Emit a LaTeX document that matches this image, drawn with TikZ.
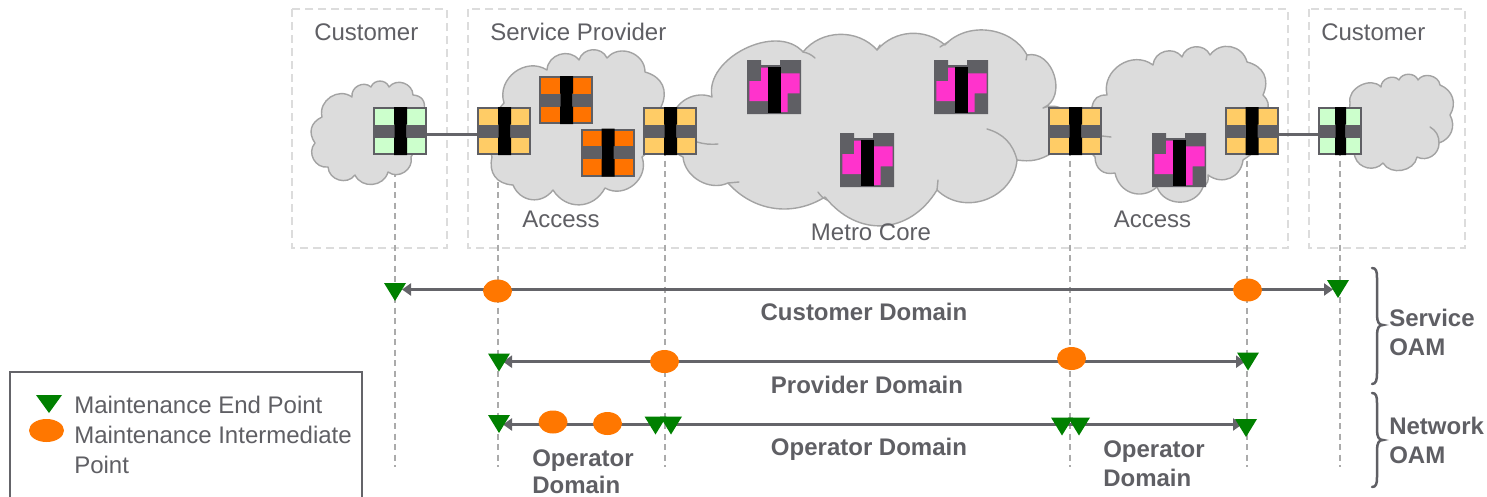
\documentclass[tikz,border=0pt]{standalone}
\usepackage{fontspec}
\setmainfont{Liberation Sans}
\usetikzlibrary{arrows.meta,shapes.geometric}
\definecolor{txtgrey}{HTML}{5F5F64}
\definecolor{linegrey}{HTML}{646469}
\definecolor{boxgrey}{HTML}{DCDCDC}
\definecolor{dropgrey}{HTML}{ABABAB}
\definecolor{cloudfill}{HTML}{DCDCDC}
\definecolor{cloudline}{HTML}{A3A3A3}
\definecolor{swyellow}{HTML}{FFCC66}
\definecolor{sworange}{HTML}{FF7300}
\definecolor{swgreen}{HTML}{CCFFCC}
\definecolor{swpink}{HTML}{FF33CC}
\definecolor{mepgreen}{HTML}{008000}
\definecolor{mipfill}{HTML}{FF7700}
\def\px{0.75pt}
\tikzset{
  zonebox/.style={draw=boxgrey,line width=2*\px,dash pattern=on 8*\px off 5*\px},
  dropline/.style={draw=dropgrey,line width=2*\px,dash pattern=on 6*\px off 4.5*\px},
  cloudshape/.style={draw=cloudline,fill=cloudfill,line width=1.4*\px,bend left=70,looseness=1.2,line join=round},
  cloudarc/.style={draw=cloudline,line width=1.4*\px,line cap=round},
  swbox/.style={draw=txtgrey,line width=2*\px,inner sep=0pt,minimum height=46*\px},
  pinkbox/.style={inner sep=0pt,minimum width=54*\px,minimum height=54*\px},
  label/.style={text=txtgrey,font=\fontsize{18}{18}\selectfont,inner sep=0pt},
  blabel/.style={text=txtgrey,font=\fontsize{18}{18}\selectfont\bfseries,inner sep=0pt},
  mep/.style={inner sep=0pt,minimum width=22*\px,minimum height=18*\px,
    path picture={\fill[mepgreen] (path picture bounding box.north west) -- (path picture bounding box.north east) -- (path picture bounding box.south) -- cycle;}},
  mip/.style={ellipse,fill=mipfill,inner sep=0pt,minimum width=29*\px,minimum height=23*\px},
  oam/.style={draw=linegrey,line width=3*\px,{Triangle[length=9*\px,width=12*\px]}-{Triangle[length=9*\px,width=12*\px]}},
  oamr/.style={draw=linegrey,line width=3*\px,-{Triangle[length=9*\px,width=12*\px]}},
  oaml/.style={draw=linegrey,line width=3*\px,{Triangle[length=9*\px,width=12*\px]}-},
  bracepath/.style={draw=txtgrey,line width=2.5*\px,line cap=round},
  legendbox/.style={draw=linegrey,line width=1.3*\px,fill=white}
}
% name, cx, cy, width, fill, bar width
\newcommand{\swnode}[6]{%
  \node[swbox,fill=#5,minimum width=#4*\px-2*\px] (#1) at (#2,#3) {};
  \begin{scope}[shift={(#2,#3)}]
    \fill[txtgrey] (-#4/2,-6.5) rectangle (#4/2,6.5);
    \fill[black] (-#6/2+.5,-24) -- (#6/2+.5,-24) -- (#6/2+.5,-6.5) -- (#6/2-.3,-6.5) -- (#6/2-.3,6.5) -- (#6/2+.5,6.5) -- (#6/2+.5,24) -- (-#6/2+.5,24) -- (-#6/2+.5,6.5) -- (-#6/2+1.2,6.5) -- (-#6/2+1.2,-6.5) -- (-#6/2+.5,-6.5) -- cycle;
  \end{scope}}
% name, left, top
\newcommand{\pinknode}[3]{%
  \node[pinkbox] (#1) at (#2+27,#3+27) {};
  \begin{scope}[shift={(#2,#3)}]
    \fill[txtgrey] (0,0) -- (14,0) -- (14,5) -- (33,5) -- (33,0) -- (54,0) -- (54,54) -- (0,54) -- cycle;
    \fill[swpink] (2.3,21) -- (14,21) -- (14,7.5) -- (21.5,7.5) -- (21.5,41) -- (2.3,41) -- cycle;
    \fill[swpink] (34,13.3) -- (52.6,13.3) -- (52.6,33.3) -- (40.7,33.3) -- (40.7,52) -- (34,52) -- cycle;
    \fill[black] (21.2,7) rectangle (34.2,53);
  \end{scope}}
\begin{document}
\begin{tikzpicture}[x=0.75pt,y=-0.75pt]
\useasboundingbox (0,0) rectangle (1487,496);
% zones
\draw[zonebox] (292,9) rectangle (447,248);
\draw[zonebox] (468,9) rectangle (1288,248);
\draw[zonebox] (1309,9) rectangle (1465,248);
% end coordinates of the drop lines
\coordinate (d1) at (395,467);
\coordinate (d2) at (498,467);
\coordinate (d3) at (664.5,467);
\coordinate (d4) at (1070,467);
\coordinate (d5) at (1247,467);
\coordinate (d6) at (1340,467);
\coordinate (t1) at (395,150);
\coordinate (t2) at (498,150);
\coordinate (t3) at (664.5,150);
\coordinate (t4) at (1070,150);
\coordinate (t5) at (1247,150);
\coordinate (t6) at (1340,150);
\foreach \i in {1,...,6} {\draw[dropline] (t\i) -- (d\i);}
% clouds
\path[cloudshape] (322,117) to (352,97) to (371,87) to (389,87) to (413,95) to[bend left=50] (424,110) to[bend left=15] (411,157) to (388,172) to (355,175) to (328,167) to (315,143) to[bend left=50] (322,117) -- cycle;
\path[cloudshape] (504,103) to (547,70) to (579,60) to (607,58) to (645,72) to[bend left=50] (661,107) to[bend left=30] (642,157) to[bend left=70] (605,188) to[bend left=60] (553,190) to[bend left=60] (513,185) to[bend left=50] (492,157) to[bend left=30] (504,103) -- cycle;
\path[cloudshape,looseness=1] (683,157) to[bend left=50] (672,118) to[bend left=50] (712,97) to[bend left=75] (803,52) to[bend left=50] (877,50) to[bend left=45] (945,45) to[bend left=55] (1027,55) to[bend left=85,looseness=1.25] (1043,108) to[bend left=30] (1067,112) to[bend left=40] (1052,153) to[bend left=20] (1017,160) to[bend left=65,looseness=1.15] (937,190) to[bend left=55,looseness=1.2] (825,197) to[bend left=40] (728,183) to[bend left=55] (683,157) -- cycle;
\path[cloudshape] (1107,95) to[bend left=70] (1153,65) to (1182,57) to (1210,55) to[bend left=65] (1247,62) to[bend left=50] (1263,95) to[bend left=30] (1267,112) to[bend left=30] (1243,160) to[bend left=60] (1208,175) to[bend left=30] (1203,187) to[bend left=70] (1157,187) to[bend left=60] (1115,173) to[bend left=50] (1095,157) to[bend left=40] (1092,107) to[bend left=40] (1107,95) -- cycle;
\path[cloudshape,looseness=1.1] (1350,103) to[bend left=75] (1381,87) to (1399,80) to (1418,80) to (1440,85) to[bend left=50] (1450,115) to[bend left=50] (1439,143) to[bend left=60] (1417,157) to[bend left=70] (1383,163) to[bend left=60] (1355,157) to[bend left=10] (1350,103) -- cycle;
% cloud inner arcs
\draw[cloudarc] (803,52) to[bend left=15] (815,58);
\draw[cloudarc] (880,45) -- (877,50);
\draw[cloudarc] (948,42) -- (940,47);
\draw[cloudarc] (1027,55) -- (1026,60);
\draw[cloudarc] (987,129) to[bend left=30] (1017,160);
\draw[cloudarc] (938,180) -- (937,190);
\draw[cloudarc] (818,192) to[bend right=15] (827,200);
\draw[cloudarc] (728,183) -- (739,182);
\draw[cloudarc] (697,142) to[bend right=10] (718,144);
\draw[cloudarc] (1102,136) -- (1111,137);
\draw[cloudarc] (1430,127) to[bend left=30] (1439,143);
% switches
\swnode{cl}{400}{131}{54}{swgreen}{13}
\swnode{ya}{504}{131}{54}{swyellow}{13}
\swnode{oa}{566}{100}{54}{sworange}{13}
\swnode{ob}{607.5}{152.5}{54}{sworange}{13}
\swnode{yb}{670}{131}{54}{swyellow}{13}
\swnode{yc}{1075}{131}{54}{swyellow}{13}
\swnode{yd}{1251.5}{131}{54}{swyellow}{13}
\swnode{cr}{1340}{131}{44}{swgreen}{11}
\pinknode{pa}{747}{60}
\pinknode{pb}{934}{60}
\pinknode{pc}{840}{133}
\pinknode{pd}{1152}{133}
\draw[draw=linegrey,line width=3*\px] ([yshift=-2.25pt]cl.east) -- ([yshift=-2.25pt]ya.west);
\draw[draw=linegrey,line width=3*\px] ([yshift=-2.25pt]yd.east) -- ([yshift=-2.25pt]cr.west);
% zone and cloud labels
\node[label,anchor=base west] (lc1) at (314,40) {Customer};
\node[label,anchor=base west] (lsp) at (490,40) {Service Provider};
\node[label,anchor=base west] (lc2) at (1321,40) {Customer};
\node[label,anchor=base] (la1) at (561,227) {Access};
\node[label,anchor=base] (lmc) at (871,240) {Metro Core};
\node[label,anchor=base] (la2) at (1152.5,227) {Access};
% OAM row ends
\coordinate (r1a) at (402,289.5);
\coordinate (r1b) at (1333,289.5);
\coordinate (r2a) at (503,361.7);
\coordinate (r2b) at (1245,361.7);
\coordinate (r3a) at (503,424.5);
\coordinate (r3b) at (655,424.5);
\coordinate (r3c) at (671,424.5);
\coordinate (r3d) at (1242,424.5);
\draw[oam] (r1a) -- (r1b);
\draw[oam] (r2a) -- (r2b);
\draw[oaml] (r3a) -- (r3b);
\draw[oamr] (r3c) -- (r3d);
% OAM points
\node[mep] (m11) at (395,292) {};
\node[mep] (m12) at (1338,289) {};
\node[mip] (i11) at (497.5,291) {};
\node[mip] (i12) at (1247.5,290) {};
\node[mep] (m21) at (499,362.5) {};
\node[mep] (m22) at (1248,361.5) {};
\node[mip] (i21) at (664.5,361.5) {};
\node[mip] (i22) at (1071.5,358.5) {};
\node[mep] (m31) at (499,424) {};
\node[mip] (i31) at (553,422) {};
\node[mip] (i32) at (607.5,423.5) {};
\node[mep] (m32) at (655.5,425.5) {};
\node[mep] (m33) at (671,425.5) {};
\node[mep] (m34) at (1062,426.5) {};
\node[mep] (m35) at (1079,426.5) {};
\node[mep] (m36) at (1246,428) {};
% domain labels
\node[blabel,anchor=base] (dc) at (864,320) {Customer Domain};
\node[blabel,anchor=base] (dp) at (867,393) {Provider Domain};
\node[blabel,anchor=base] (do) at (869,455) {Operator Domain};
\node[blabel,anchor=base west] (dl1) at (532,466) {Operator};
\node[blabel,anchor=base west] (dl2) at (532,493) {Domain};
\node[blabel,anchor=base west] (dr1) at (1103,457) {Operator};
\node[blabel,anchor=base west] (dr2) at (1103,486) {Domain};
% braces
\draw[bracepath] (1372,268) .. controls (1376,268) and (1377,271) .. (1377,278) -- (1377,315) .. controls (1377,322) and (1379,325) .. (1383,325) .. controls (1379,325) and (1377,328) .. (1377,335) -- (1377,373) .. controls (1377,380) and (1376,384) .. (1372,384);
\draw[bracepath] (1372,393) .. controls (1376,393) and (1377,396) .. (1377,403) -- (1377,430) .. controls (1377,437) and (1379,440) .. (1383,440) .. controls (1379,440) and (1377,443) .. (1377,450) -- (1377,477) .. controls (1377,484) and (1376,487) .. (1372,487);
\node[blabel,anchor=base west] (s1) at (1389,326) {Service};
\node[blabel,anchor=base west] (s2) at (1389,355) {OAM};
\node[blabel,anchor=base west] (n1) at (1389,434.5) {Network};
\node[blabel,anchor=base west] (n2) at (1389,463.5) {OAM};
% legend
\draw[legendbox] (10,372) rectangle (362,510);
\node[mep,minimum width=26*\px] (lg1) at (49,404) {};
\node[mip,minimum width=35*\px] (lg2) at (46.5,430.5) {};
\node[label,anchor=base west] (lt1) at (74,413) {Maintenance End Point};
\node[label,anchor=base west] (lt2) at (74,443.5) {Maintenance Intermediate};
\node[label,anchor=base west] (lt3) at (74,473) {Point};
\end{tikzpicture}
\end{document}
